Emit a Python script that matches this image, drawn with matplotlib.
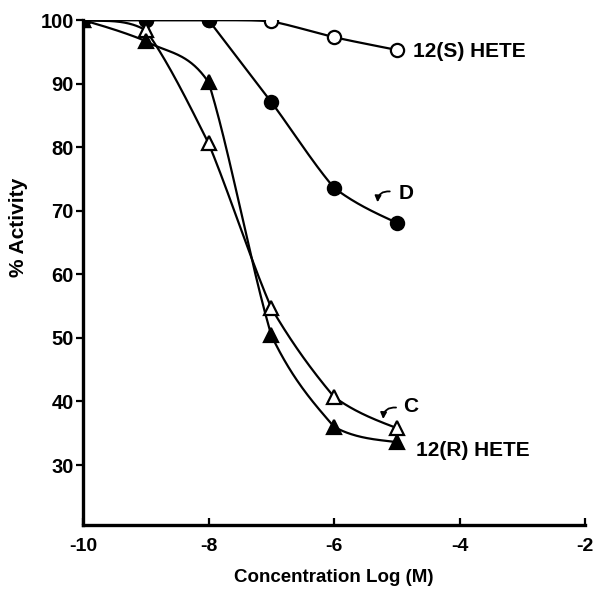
import numpy as np
import matplotlib.pyplot as plt

plt.rcParams['font.family'] = ['Liberation Sans', 'DejaVu Sans']
plt.rcParams['font.weight'] = 'bold'

# log concentration (M)
conc = [-10, -9, -8, -7, -6, -5]

# % activity for each compound
s_hete = [100, 100, 100, 99.8, 97.3, 95.3]
comp_d = [100, 100, 100, 87.1, 73.6, 68.1]
comp_c = [100, 98.4, 80.6, 54.7, 40.7, 35.8]
r_hete = [100, 96.7, 90.2, 50.4, 36.0, 33.6]

x_ticks = [-10, -8, -6, -4, -2]
y_ticks = [30, 40, 50, 60, 70, 80, 90, 100]


def smooth(x, y, blend=0.5, n=60):
    """Hermite curve; node slopes are Catmull-Rom values pulled toward each
    segment's chord, so corners can hide under the markers (like a French curve)."""
    x = np.asarray(x, float)
    y = np.asarray(y, float)
    N = len(x)
    d = np.diff(y) / np.diff(x)
    cr = np.zeros(N)
    for i in range(1, N - 1):
        cr[i] = (y[i + 1] - y[i - 1]) / (x[i + 1] - x[i - 1])
    cr[0] = (3 * d[0] - cr[1]) / 2
    cr[-1] = (3 * d[-1] - cr[-2]) / 2
    if cr[0] * d[0] <= 0:
        cr[0] = 0.0
    if cr[-1] * d[-1] <= 0:
        cr[-1] = 0.0
    xs, ys = [], []
    for k in range(N - 1):
        if d[k] == 0:
            m0 = m1 = 0.0
        else:
            a = cr[k] if not (k > 0 and d[k - 1] == 0) else d[k]
            b = cr[k + 1]
            m0 = blend * a + (1 - blend) * d[k]
            m1 = blend * b + (1 - blend) * d[k]
        h = x[k + 1] - x[k]
        t = np.linspace(0, 1, n)
        h00 = 2 * t**3 - 3 * t**2 + 1
        h10 = t**3 - 2 * t**2 + t
        h01 = -2 * t**3 + 3 * t**2
        h11 = t**3 - t**2
        xs.append(x[k] + t * h)
        ys.append(h00 * y[k] + h10 * h * m0 + h01 * y[k + 1] + h11 * h * m1)
    return np.concatenate(xs), np.concatenate(ys)


fig = plt.figure(figsize=(5.93, 5.91), dpi=100)
ax = fig.add_axes([0.140, 0.111, 0.847, 0.855])

series = [
    (s_hete, 'o', 'white'),
    (comp_d, 'o', 'black'),
    (comp_c, '^', 'white'),
    (r_hete, '^', 'black'),
]
for vals, mk, fc in series:
    cx, cy = smooth(conc, vals)
    ax.plot(cx, cy, color='black', lw=1.6, zorder=2)
    ax.plot(conc, vals, linestyle='none', marker=mk, ms=9.5 if mk == 'o' else 10.5,
            mfc=fc, mec='black', mew=1.6, zorder=3)

# curve labels
fs = 15
ax.text(-4.74, 95.0, '12(S) HETE', fontsize=fs, fontweight='bold', va='center', ha='left')
ax.text(-4.70, 32.3, '12(R) HETE', fontsize=fs, fontweight='bold', va='center', ha='left')
ax.text(-4.98, 72.7, 'D', fontsize=fs, fontweight='bold', va='center', ha='left')
ax.text(-4.90, 39.2, 'C', fontsize=fs, fontweight='bold', va='center', ha='left')
ax.annotate('', xy=(-5.31, 70.9), xytext=(-5.07, 73.0),
            arrowprops=dict(arrowstyle='-|>', lw=1.3, color='black',
                            connectionstyle='arc3,rad=0.6', mutation_scale=9))
ax.annotate('', xy=(-5.22, 36.8), xytext=(-4.97, 39.0),
            arrowprops=dict(arrowstyle='-|>', lw=1.3, color='black',
                            connectionstyle='arc3,rad=0.6', mutation_scale=9))

ax.set_xlim(-10, -2)
ax.set_ylim(20.5, 100)
ax.set_xticks(x_ticks)
ax.set_yticks(y_ticks)
ax.set_xticklabels([str(v) for v in x_ticks])
ax.tick_params(axis='x', direction='in', length=5, width=1.6, labelsize=14, pad=9)
ax.tick_params(axis='y', direction='out', length=5, width=1.6, labelsize=14.5, pad=1.5)
for lab in ax.get_xticklabels() + ax.get_yticklabels():
    lab.set_fontweight('bold')

for side in ['top', 'right']:
    ax.spines[side].set_visible(False)
ax.spines['left'].set_linewidth(2.4)
ax.spines['bottom'].set_linewidth(2.4)

ax.set_xlabel('Concentration Log (M)', fontsize=13.5, fontweight='bold', labelpad=10)
ax.set_ylabel('% Activity', fontsize=15, fontweight='bold')
ax.yaxis.set_label_coords(-0.11, 0.59)

fig.savefig('out.png', dpi=100)
